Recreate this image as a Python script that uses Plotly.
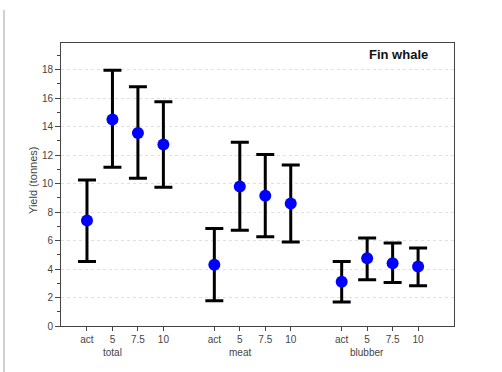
import plotly.graph_objects as go

groups = ["total", "meat", "blubber"]
levels = ["act", "5", "7.5", "10"]
positions = [1, 2, 3, 4, 6, 7, 8, 9, 11, 12, 13, 14]
tick_labels = levels * 3
group_label_pos = [2, 7, 12]

mean = [7.4, 14.5, 13.55, 12.75, 4.3, 9.8, 9.15, 8.6, 3.1, 4.75, 4.4, 4.18]
upper = [10.25, 17.95, 16.8, 15.75, 6.85, 12.9, 12.05, 11.3, 4.53, 6.17, 5.82, 5.47]
lower = [4.52, 11.15, 10.38, 9.75, 1.78, 6.72, 6.27, 5.9, 1.68, 3.24, 3.06, 2.82]

err_plus = [u - m for u, m in zip(upper, mean)]
err_minus = [m - l for m, l in zip(mean, lower)]

font_family = "Liberation Sans, Arial, sans-serif"

fig = go.Figure()
fig.add_trace(go.Scatter(
    x=positions, y=mean, mode="markers",
    marker=dict(color="#0000FF", size=12),
    error_y=dict(type="data", symmetric=False, array=err_plus, arrayminus=err_minus,
                 color="black", thickness=3, width=9),
    showlegend=False,
))

fig.update_layout(
    width=502, height=372,
    margin=dict(l=61, r=48, t=43, b=46),
    paper_bgcolor="white", plot_bgcolor="white",
    font=dict(family=font_family, size=10, color="#444"),
    xaxis=dict(
        range=[-0.02, 15.41], tickmode="array", tickvals=positions, ticktext=tick_labels,
        ticks="outside", ticklen=4, tickcolor="#444", showgrid=False, zeroline=False,
        showline=True, linecolor="#444", linewidth=1, mirror=True,
        tickfont=dict(size=10, color="#444"),
    ),
    yaxis=dict(
        range=[0, 19.87], tickmode="linear", tick0=0, dtick=2,
        ticks="outside", ticklen=5, tickcolor="#444",
        showgrid=True, gridcolor="#e0e0e0", griddash="dot", gridwidth=1,
        zeroline=False, showline=True, linecolor="#444", linewidth=1, mirror=True,
        tickfont=dict(size=10, color="#444"),
        minor=dict(dtick=1, ticks="outside", ticklen=3, tickcolor="#444", showgrid=False),
    ),
)

for g, p in zip(groups, group_label_pos):
    fig.add_annotation(x=p, xref="x", y=-0.095, yref="paper", text=g, showarrow=False,
                       xanchor="center", yanchor="middle", font=dict(size=10, color="#444"))

fig.add_annotation(x=(33 - 61) / 393, xref="paper", y=(326 - 181) / 283, yref="paper",
                   text="Yield (tonnes)", textangle=-90, showarrow=False,
                   xanchor="center", yanchor="middle", font=dict(size=11, color="#444"))

fig.add_annotation(x=(398 - 61) / 393, xref="paper",
                   y=(326 - 55) / 283, yref="paper", text="<b>Fin whale</b>",
                   showarrow=False, xanchor="center", yanchor="middle",
                   font=dict(size=13, color="#111"))

fig.add_shape(type="line", xref="paper", yref="paper",
              x0=(4 - 61) / 393, x1=(4 - 61) / 393, y0=(326 - 10) / 283, y1=(326 - 380) / 283,
              line=dict(color="#d0d0d0", width=2))

fig.write_html("out.html", config={"displayModeBar": False},
               post_script="document.body.style.margin='0';")
